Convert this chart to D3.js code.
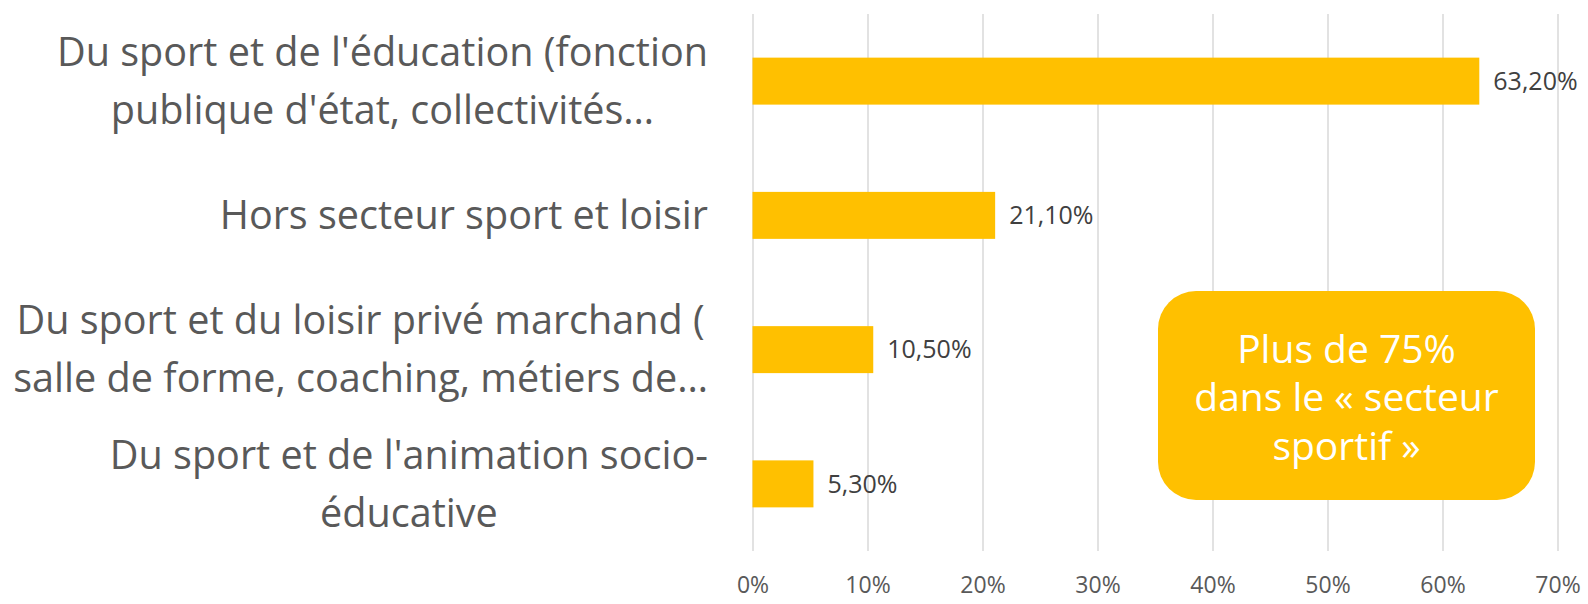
<!DOCTYPE html>
<html><head><meta charset="utf-8">
<script src="https://cdn.jsdelivr.net/npm/d3@7"></script>
<style>
html,body{margin:0;padding:0;background:#fff;}
svg{display:block;font-family:"Open Sans",sans-serif;}
</style></head>
<body><svg id="c" width="1588" height="604"></svg>
<script>
const categories = [
  ["Du sport et de l'éducation (fonction", "publique d'état, collectivités…"],
  ["Hors secteur sport et loisir"],
  ["Du sport et du loisir privé marchand (", "salle de forme, coaching, métiers de…"],
  ["Du sport et de l'animation socio-", "éducative"]
];
const values = [63.2, 21.1, 10.5, 5.3];
const valueLabels = ["63,20%", "21,10%", "10,50%", "5,30%"];
const xTicks = [0, 10, 20, 30, 40, 50, 60, 70];
const calloutLines = ["Plus de 75%", "dans le « secteur", "sportif »"];

const svg = d3.select("#c");
const pLeft = 752.5, pRight = 1557.5, pTop = 14, pBottom = 551;
const x = d3.scaleLinear().domain([0, 70]).range([pLeft, pRight]);
const y = d3.scaleBand().domain(d3.range(categories.length)).range([pTop, pBottom])
  .paddingInner(0.65).paddingOuter(0.325);

// gridlines
const grid = svg.append("g").attr("transform", `translate(0,${pBottom})`)
  .call(d3.axisBottom(x).tickValues(xTicks).tickSize(-(pBottom - pTop)).tickFormat(""));
grid.select(".domain").remove();
grid.selectAll(".tick line").attr("stroke", "#d9d9d9").attr("stroke-width", 1.5);

// tick labels
const ax = svg.append("g").attr("transform", `translate(0,${pBottom})`)
  .call(d3.axisBottom(x).tickValues(xTicks).tickSize(0).tickPadding(26).tickFormat(d => d + "%"));
ax.select(".domain").remove();
ax.attr("font-size", 23).attr("font-family", "'Open Sans',sans-serif");
ax.selectAll("text").attr("fill", "#595959").attr("font-size", 23);

// bars
svg.append("g").selectAll("rect").data(values).join("rect")
  .attr("x", x(0)).attr("y", (d, i) => y(i))
  .attr("width", d => x(d) - x(0)).attr("height", y.bandwidth())
  .attr("fill", "#FFC000");

// data labels
svg.append("g").selectAll("text").data(values).join("text")
  .attr("x", d => x(d) + 14).attr("y", (d, i) => y(i) + y.bandwidth() / 2)
  .attr("dy", "0.35em").attr("fill", "#404040").attr("font-size", 25)
  .text((d, i) => valueLabels[i]);

// category labels
const labelRight = 708, lineH = 58, catSize = 39.6;
categories.forEach((lines, i) => {
  const g = svg.append("g");
  const cy = y(i) + y.bandwidth() / 2;
  const texts = lines.map((l, j) => g.append("text")
    .attr("font-size", catSize).attr("fill", "#595959")
    .attr("text-anchor", "middle")
    .attr("y", cy + (j - (lines.length - 1) / 2) * lineH)
    .attr("dy", "0.35em").text(l));
  const maxW = d3.max(texts, t => t.node().getComputedTextLength());
  texts.forEach(t => t.attr("x", labelRight - maxW / 2));
});

// callout
const bx = 1158, by = 291, bw = 377, bh = 209;
svg.append("rect").attr("x", bx).attr("y", by).attr("width", bw).attr("height", bh)
  .attr("rx", 38).attr("ry", 38).attr("fill", "#FFC000");
svg.append("g").selectAll("text").data(calloutLines).join("text")
  .attr("x", bx + bw / 2).attr("y", (d, i) => 349 + i * 48.5)
  .attr("dy", "0.35em").attr("text-anchor", "middle")
  .attr("fill", "#fff").attr("font-size", 39).text(d => d);
</script></body></html>
